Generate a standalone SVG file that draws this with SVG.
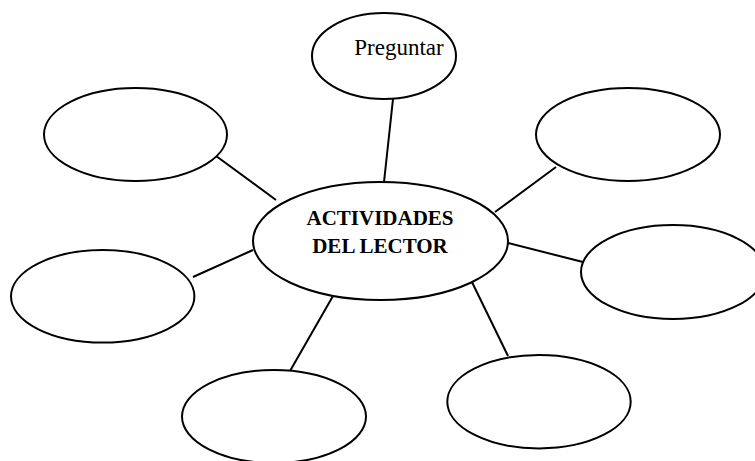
<svg xmlns="http://www.w3.org/2000/svg" width="755" height="461" viewBox="0 0 755 461">
<style>
.node ellipse{fill:#fff;stroke:#000;stroke-width:2}
.conn line{stroke:#000;stroke-width:2}
.t{font-family:"Liberation Serif","Times New Roman",serif;fill:#000;text-anchor:middle}
.b{font-weight:bold;font-size:21px}
</style>
<rect width="755" height="461" fill="#fff"/>
<g id="connectors" class="conn">
<line x1="393" y1="99" x2="384" y2="182"/>
<line x1="212" y1="153" x2="276" y2="200"/>
<line x1="556" y1="167" x2="495" y2="212"/>
<line x1="193" y1="277" x2="253" y2="250"/>
<line x1="508" y1="243" x2="583" y2="262"/>
<line x1="333" y1="296" x2="290" y2="371"/>
<line x1="469" y1="276" x2="508" y2="356"/>
</g>
<g id="center" class="node">
<ellipse cx="380.5" cy="241" rx="127.5" ry="59"/>
<text class="t b" x="380" y="225">ACTIVIDADES</text>
<text class="t b" x="380" y="253">DEL LECTOR</text>
</g>
<g id="preguntar" class="node">
<ellipse cx="384" cy="56" rx="72" ry="43"/>
<text class="t" x="399" y="55" font-size="23">Preguntar</text>
</g>
<g id="top-left" class="node"><ellipse cx="135.5" cy="134.5" rx="91.5" ry="46.5"/></g>
<g id="top-right" class="node"><ellipse cx="628" cy="134.5" rx="92" ry="46.5"/></g>
<g id="left" class="node"><ellipse cx="102.7" cy="296.3" rx="91.7" ry="46.3"/></g>
<g id="right" class="node"><ellipse cx="673" cy="272" rx="92" ry="47"/></g>
<g id="bottom-left" class="node"><ellipse cx="274" cy="416.5" rx="92" ry="46.5"/></g>
<g id="bottom-right" class="node"><ellipse cx="539" cy="401.7" rx="91.7" ry="46.7"/></g>
</svg>
